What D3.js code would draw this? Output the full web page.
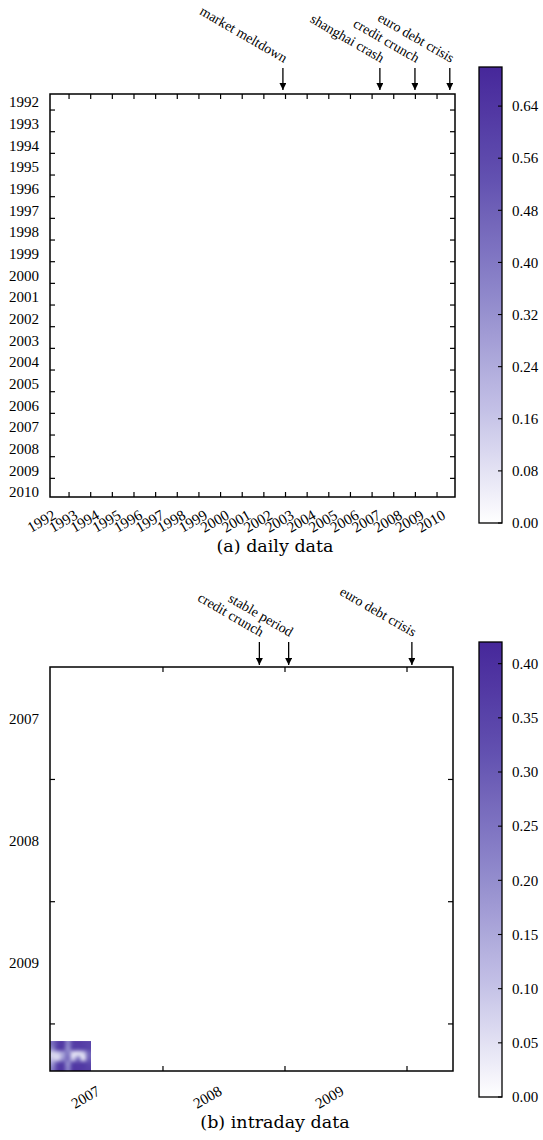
<!DOCTYPE html>
<html>
<head>
<meta charset="utf-8">
<script src="https://cdn.jsdelivr.net/npm/d3@7"></script>
<style>
  body { margin: 0; background: #fff; }
  text { font-family: "Liberation Serif", "Times New Roman", serif; font-size: 15px; fill: #000; }
  .note { font-size: 14px; }
  .caption { font-family: "DejaVu Serif", serif; font-size: 17.5px; }
</style>
</head>
<body>
<script>
// ---- panel (a) daily data ----
let yearsA = ["1992","1993","1994","1995","1996","1997","1998","1999","2000","2001",
              "2002","2003","2004","2005","2006","2007","2008","2009","2010"];
let eventNamesA = ["market meltdown", "shanghai crash", "credit crunch", "euro debt crisis"];
let eventTimesA = [2002.53, 2007.01, 2008.63, 2010.24];
let cbarTicksA = [0.00, 0.08, 0.16, 0.24, 0.32, 0.40, 0.48, 0.56, 0.64];
let cbarMaxA = 0.70;

// ---- panel (b) intraday data ----
let yearsB = ["2007", "2008", "2009"];
let boundsB = [2008, 2009, 2010];
let eventNamesB = ["credit crunch", "stable period", "euro debt crisis"];
let eventTimesB = [2008.79, 2009.03, 2010.04];
let cbarTicksB = [0.00, 0.05, 0.10, 0.15, 0.20, 0.25, 0.30, 0.35, 0.40];
let cbarMaxB = 0.42;
// small block of nonzero similarity in the lower-left corner (rows top to bottom)
let patchB = [
  [0.26, 0.35, 0.37, 0.22, 0.35, 0.37, 0.36, 0.35],
  [0.21, 0.34, 0.35, 0.20, 0.33, 0.33, 0.34, 0.34],
  [0.07, 0.09, 0.16, 0.24, 0.06, 0.05, 0.08, 0.27],
  [0.09, 0.07, 0.18, 0.26, 0.09, 0.23, 0.06, 0.28],
  [0.18, 0.32, 0.35, 0.20, 0.34, 0.36, 0.35, 0.34],
  [0.23, 0.36, 0.37, 0.22, 0.37, 0.38, 0.37, 0.36]
];
let patchXB = [2007.074, 2007.41];
let patchYB = [2010.14, 2010.385];

let svg = d3.select("body").append("svg")
  .attr("width", 543)
  .attr("height", 1140);

//colour map white -> blue violet
let cmap = d3.scaleLinear()
  .domain([0, 0.25, 0.5, 0.75, 1])
  .range(["#ffffff", "#c3c0e6", "#8f88cb", "#6352b1", "#46279a"])
  .interpolate(d3.interpolateRgb);

let defs = svg.append("defs");
defs.append("marker")
  .attr("id", "arrow")
  .attr("viewBox", "0 0 10 10")
  .attr("refX", 10).attr("refY", 5)
  .attr("markerWidth", 7).attr("markerHeight", 7)
  .attr("markerUnits", "userSpaceOnUse")
  .attr("orient", "auto")
  .append("path")
  .attr("d", "M0,0 L10,5 L0,10 Z")
  .attr("fill", "#000");

let grad = defs.append("linearGradient")
  .attr("id", "cgrad")
  .attr("x1", 0).attr("y1", 1).attr("x2", 0).attr("y2", 0);
d3.range(0, 1.0001, 0.05).forEach(f =>
  grad.append("stop").attr("offset", f).attr("stop-color", cmap(f))
);

function frame(x0, y0, x1, y1) {
  svg.append("rect")
    .attr("x", x0).attr("y", y0)
    .attr("width", x1 - x0).attr("height", y1 - y0)
    .attr("fill", "none").attr("stroke", "#000").attr("stroke-width", 1.5);
}

function ticksX(xs, y0, y1) {
  xs.forEach(x => {
    svg.append("line").attr("x1", x).attr("x2", x).attr("y1", y0).attr("y2", y0 + 5)
      .attr("stroke", "#000").attr("stroke-width", 1.2);
    svg.append("line").attr("x1", x).attr("x2", x).attr("y1", y1).attr("y2", y1 - 5)
      .attr("stroke", "#000").attr("stroke-width", 1.2);
  });
}
function ticksY(ys, x0, x1) {
  ys.forEach(y => {
    svg.append("line").attr("x1", x0).attr("x2", x0 + 5).attr("y1", y).attr("y2", y)
      .attr("stroke", "#000").attr("stroke-width", 1.2);
    svg.append("line").attr("x1", x1).attr("x2", x1 - 5).attr("y1", y).attr("y2", y)
      .attr("stroke", "#000").attr("stroke-width", 1.2);
  });
}

function events(names, times, sx, yTop, yTip) {
  for (var i = 0; i < names.length; i++) {
    let x = sx(times[i]);
    svg.append("line")
      .attr("x1", x).attr("x2", x)
      .attr("y1", yTop).attr("y2", yTip)
      .attr("stroke", "#000").attr("stroke-width", 1.3)
      .attr("marker-end", "url(#arrow)");
    svg.append("text")
      .attr("class", "note")
      .attr("text-anchor", "end")
      .attr("transform", "translate(" + (x + 1) + "," + (yTop - 5) + ") rotate(30)")
      .text(names[i]);
  }
}

function colorbar(y0, y1, vmax, ticks) {
  let x0 = 479, x1 = 502;
  let sc = d3.scaleLinear().domain([0, vmax]).range([y1, y0]);
  svg.append("rect")
    .attr("x", x0).attr("y", y0).attr("width", x1 - x0).attr("height", y1 - y0)
    .attr("fill", "url(#cgrad)").attr("stroke", "#000").attr("stroke-width", 1.3);
  ticks.forEach(t => {
    svg.append("line").attr("x1", x1).attr("x2", x1 - 4)
      .attr("y1", sc(t)).attr("y2", sc(t))
      .attr("stroke", "#000").attr("stroke-width", 1.1);
    svg.append("text")
      .attr("x", 512).attr("y", sc(t))
      .attr("dy", "0.35em")
      .text(t.toFixed(2));
  });
}

// ---------- panel a ----------
let axA = {x0: 50, x1: 455, y0: 94, y1: 497};
let sxA = d3.scaleLinear().domain([1991.77, 2010.48]).range([axA.x0, axA.x1]);
let syA = d3.scaleLinear().domain([1991.63, 2010.23]).range([axA.y0, axA.y1]);

frame(axA.x0, axA.y0, axA.x1, axA.y1);
ticksX(yearsA.slice(0, 18).map(y => sxA(+y + 0.65)), axA.y0, axA.y1);
ticksY(yearsA.slice(0, 18).map(y => syA(+y + 0.37)), axA.x0, axA.x1);

yearsA.forEach(y => {
  svg.append("text")
    .attr("x", 39).attr("y", syA(+y))
    .attr("dy", "0.35em")
    .attr("text-anchor", "end")
    .text(y);
  svg.append("text")
    .attr("text-anchor", "end")
    .attr("transform", "translate(" + (sxA(+y) + 2) + "," + 518 + ") rotate(-30)")
    .text(y);
});
events(eventNamesA, eventTimesA, sxA, 68, 90);
colorbar(67, 523, cbarMaxA, cbarTicksA);
svg.append("text").attr("class", "caption")
  .attr("x", 275).attr("y", 552).attr("text-anchor", "middle")
  .text("(a) daily data");

// ---------- panel b ----------
let axB = {x0: 50, x1: 453, y0: 667, y1: 1071};
let sxB = d3.scaleLinear().domain([2007.074, 2010.377]).range([axB.x0, axB.x1]);
let syB = d3.scaleLinear().domain([2007.08, 2010.385]).range([axB.y0, axB.y1]);

// heatmap block: tiny canvas of cells, upscaled with smoothing
let small = document.createElement("canvas");
small.width = patchB[0].length;
small.height = patchB.length;
let sctx = small.getContext("2d");
patchB.forEach((row, r) => row.forEach((v, c) => {
  sctx.fillStyle = cmap(v / cbarMaxB);
  sctx.fillRect(c, r, 1, 1);
}));
let pw = sxB(patchXB[1]) - sxB(patchXB[0]);
let ph = syB(patchYB[1]) - syB(patchYB[0]);
let big = document.createElement("canvas");
big.width = Math.round(pw) * 4;
big.height = Math.round(ph) * 4;
let bctx = big.getContext("2d");
bctx.imageSmoothingEnabled = true;
bctx.imageSmoothingQuality = "high";
bctx.drawImage(small, 0, 0, big.width, big.height);
svg.append("image")
  .attr("href", big.toDataURL())
  .attr("x", sxB(patchXB[0])).attr("y", syB(patchYB[0]))
  .attr("width", pw)
  .attr("height", ph)
  .attr("preserveAspectRatio", "none");

frame(axB.x0, axB.y0, axB.x1, axB.y1);
ticksX(boundsB.map(sxB), axB.y0, axB.y1);
ticksY(boundsB.map(syB), axB.x0, axB.x1);

yearsB.forEach(y => {
  svg.append("text")
    .attr("x", 39).attr("y", syB(+y + 0.5))
    .attr("dy", "0.35em")
    .attr("text-anchor", "end")
    .text(y);
  svg.append("text")
    .attr("text-anchor", "end")
    .attr("transform", "translate(" + (sxB(+y + 0.5) - 1) + "," + 1094 + ") rotate(-30)")
    .text(y);
});
events(eventNamesB, eventTimesB, sxB, 642, 665);
colorbar(642, 1097, cbarMaxB, cbarTicksB);
svg.append("text").attr("class", "caption")
  .attr("x", 275).attr("y", 1128).attr("text-anchor", "middle")
  .text("(b) intraday data");
</script>
</body>
</html>
